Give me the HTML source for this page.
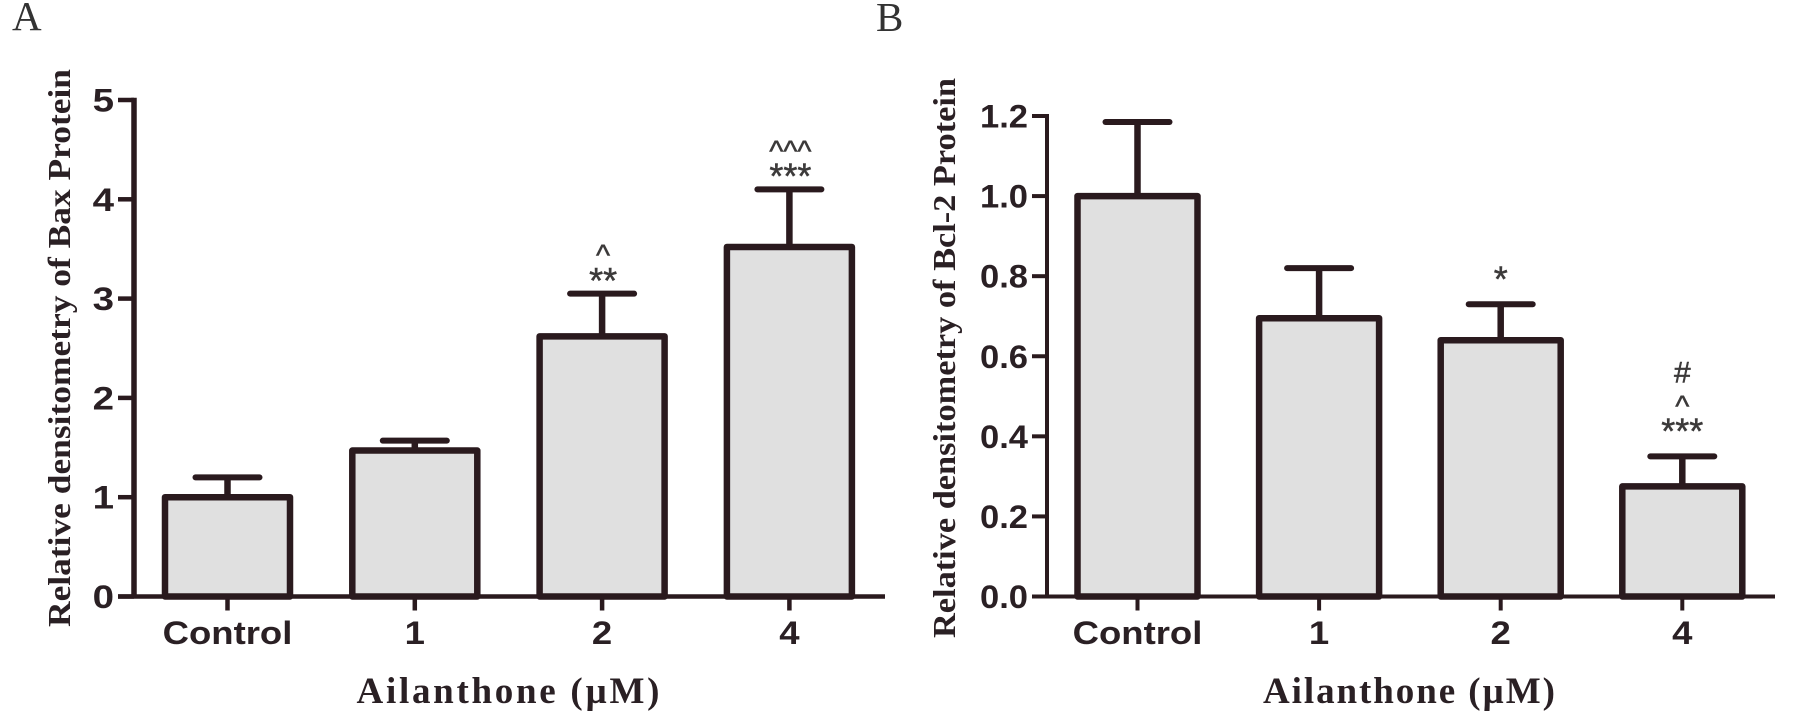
<!DOCTYPE html>
<html lang="en">
<head>
<meta charset="utf-8">
<title>Relative densitometry of Bax and Bcl-2 Protein</title>
<style>
html,body{margin:0;padding:0;background:#fff;width:1795px;height:719px;overflow:hidden}
svg{display:block}
text{fill:#2a2024}
.sans{font-family:"Liberation Sans",Arial,sans-serif;font-weight:700}
.serif{font-family:"Liberation Serif","Times New Roman",serif;font-weight:700}
.panel{font-family:"Liberation Serif","Times New Roman",serif;font-weight:400;fill:#333}
.ann{font-family:"Liberation Sans",Arial,sans-serif;font-weight:400;fill:#3c3a3a;stroke:#3c3a3a;stroke-width:.5}
</style>
</head>
<body>
<svg id="figure" xmlns="http://www.w3.org/2000/svg" width="1795" height="719" viewBox="0 0 1795 719">
  <rect width="1795" height="719" fill="#fff"/>
  <text class="panel" x="12" y="30" font-size="41">A</text>
  <text class="panel" x="876" y="31" font-size="41">B</text>
  <g id="chart-a"></g>
  <g id="chart-b"></g>
</svg>
<script>
const categories = ['Control', '1', '2', '4'];

const baxMeans = [1.0, 1.47, 2.62, 3.52];
const baxErrorTops = [1.2, 1.57, 3.05, 4.1];
const baxTicks = [0, 1, 2, 3, 4, 5];
const baxTickLabels = ['0', '1', '2', '3', '4', '5'];
const baxMarks = [[], [], ['**', '^'], ['***', '^^^']];

const bclMeans = [1.0, 0.695, 0.64, 0.275];
const bclErrorTops = [1.185, 0.82, 0.73, 0.35];
const bclTicks = [0, 0.2, 0.4, 0.6, 0.8, 1.0, 1.2];
const bclTickLabels = ['0.0', '0.2', '0.4', '0.6', '0.8', '1.0', '1.2'];
const bclMarks = [[], [], ['*'], ['***', '^', '#']];

const SVG_NS = 'http://www.w3.org/2000/svg';
const INK = '#2a1a1e';

function make(tag, parent, attrs) {
  const el = document.createElementNS(SVG_NS, tag);
  Object.keys(attrs).forEach(function (k) { el.setAttribute(k, attrs[k]); });
  parent.appendChild(el);
  return el;
}

function stretch(el, factor) {
  const len = el.getComputedTextLength();
  el.setAttribute('textLength', (len * factor).toFixed(1));
  el.setAttribute('lengthAdjust', 'spacingAndGlyphs');
}

function drawChart(root, cfg) {
  const yScale = function (v) {
    return cfg.y0 - (v / cfg.yMax) * (cfg.y0 - cfg.yTop);
  };
  const xScale = function (i) {
    return cfg.xFirst + i * cfg.xStep;
  };

  cfg.means.forEach(function (mean, i) {
    const cx = xScale(i);
    const stem = make('line', root, {
      x1: cx, x2: cx, y1: yScale(mean), y2: yScale(cfg.tops[i]),
      stroke: INK, 'stroke-width': cfg.stemW
    });
    
    

    const cap = make('line', root, {
      x1: cx - cfg.capHalf, x2: cx + cfg.capHalf,
      y1: yScale(cfg.tops[i]), y2: yScale(cfg.tops[i]),
      stroke: INK, 'stroke-width': cfg.capW, 'stroke-linecap': 'round'
    });
    
    

    const bar = make('rect', root, {
      x: cx - cfg.barW / 2, y: yScale(mean),
      width: cfg.barW, height: cfg.y0 - yScale(mean),
      fill: '#e0e0e0', stroke: INK, 'stroke-width': cfg.barStroke,
      'stroke-linejoin': 'round'
    });
    
    

    cfg.marks[i].forEach(function (mark, k) {
      const yCentre = yScale(cfg.tops[i]) - cfg.markGap - k * cfg.markStep;
      const isStar = mark.charAt(0) === '*';
      const isCaret = mark.charAt(0) === '^';
      const size = isStar ? 36 : (isCaret ? 30 : 30);
      const lift = isStar ? 0.44 : (isCaret ? 0.55 : 0.35);
      const t = make('text', root, {
        class: 'ann', x: cx + cfg.markDx, y: yCentre + size * lift,
        'text-anchor': 'middle', 'font-size': size
      });
      t.textContent = mark;
      
      
    });

    const tick = make('line', root, {
      x1: cx, x2: cx, y1: cfg.y0, y2: cfg.y0 + cfg.tickLenX,
      stroke: INK, 'stroke-width': cfg.xTickW
    });
    
    

    const lab = make('text', root, {
      class: 'sans', x: cx, y: cfg.xLabelY,
      'text-anchor': 'middle', 'font-size': 32
    });
    lab.textContent = categories[i];
    
    
    stretch(lab, cfg.xStretch);
  });

  const xAxis = make('line', root, {
    x1: cfg.axisX - cfg.tickLenY, x2: cfg.xEnd, y1: cfg.y0, y2: cfg.y0,
    stroke: INK, 'stroke-width': cfg.xAxisW
  });
  
  

  const yAxis = make('line', root, {
    x1: cfg.axisX, x2: cfg.axisX, y1: yScale(cfg.yMax) - cfg.xAxisW / 2, y2: cfg.y0,
    stroke: INK, 'stroke-width': cfg.yAxisW
  });
  
  

  cfg.ticks.forEach(function (v, i) {
    const tick = make('line', root, {
      x1: cfg.axisX - cfg.tickLenY, x2: cfg.axisX, y1: yScale(v), y2: yScale(v),
      stroke: INK, 'stroke-width': cfg.xAxisW
    });
    
    

    const lab = make('text', root, {
      class: 'sans', x: cfg.axisX - cfg.tickLenY - 4, y: yScale(v) + 11.5,
      'text-anchor': 'end', 'font-size': 32
    });
    lab.textContent = cfg.tickLabels[i];
    
    
    stretch(lab, cfg.yStretch);
  });

  const yTitle = make('text', root, {
    class: 'serif', 'font-size': 32, 'text-anchor': 'middle',
    transform: 'translate(' + cfg.yTitleX + ',' + cfg.yTitleY + ') rotate(-90)',
    textLength: cfg.yTitleLen, lengthAdjust: 'spacingAndGlyphs'
  });
  yTitle.textContent = cfg.yTitle;
  
  

  const xTitle = make('text', root, {
    class: 'serif', 'font-size': 37, 'text-anchor': 'middle',
    x: cfg.xTitleX, y: cfg.xTitleBase,
    textLength: cfg.xTitleLen, lengthAdjust: 'spacing'
  });
  xTitle.textContent = 'Ailanthone (\u00B5M)';
  
  
}

drawChart(document.getElementById('chart-a'), {
  means: baxMeans, tops: baxErrorTops, marks: baxMarks,
  ticks: baxTicks, tickLabels: baxTickLabels, yMax: 5,
  y0: 596.5, yTop: 100, xFirst: 227.5, xStep: 187.3, barW: 125,
  barStroke: 6.5, stemW: 6.5, capW: 6, capHalf: 32, yAxisW: 5.5, xAxisW: 4.5, xTickW: 4.5,
  axisX: 134, xEnd: 885, tickLenY: 16, tickLenX: 14,
  xLabelY: 644, xStretch: 1.14, yStretch: 1.2, markGap: 16.5, markStep: 28, markDx: 1,
  yTitle: 'Relative densitometry of Bax Protein',
  yTitleX: 70, yTitleY: 348, yTitleLen: 558,
  xTitleX: 508, xTitleBase: 703, xTitleLen: 303
});

drawChart(document.getElementById('chart-b'), {
  means: bclMeans, tops: bclErrorTops, marks: bclMarks,
  ticks: bclTicks, tickLabels: bclTickLabels, yMax: 1.2,
  y0: 596.5, yTop: 116, xFirst: 1137.5, xStep: 181.6, barW: 120,
  barStroke: 6.5, stemW: 6.5, capW: 6, capHalf: 32, yAxisW: 4, xAxisW: 4, xTickW: 4,
  axisX: 1047, xEnd: 1775, tickLenY: 15, tickLenX: 14,
  xLabelY: 644, xStretch: 1.14, yStretch: 1.08, markGap: 28.5, markStep: 28, markDx: 0,
  yTitle: 'Relative densitometry of Bcl-2 Protein',
  yTitleX: 955, yTitleY: 358, yTitleLen: 560,
  xTitleX: 1409, xTitleBase: 703, xTitleLen: 292
});
</script>
</body>
</html>
